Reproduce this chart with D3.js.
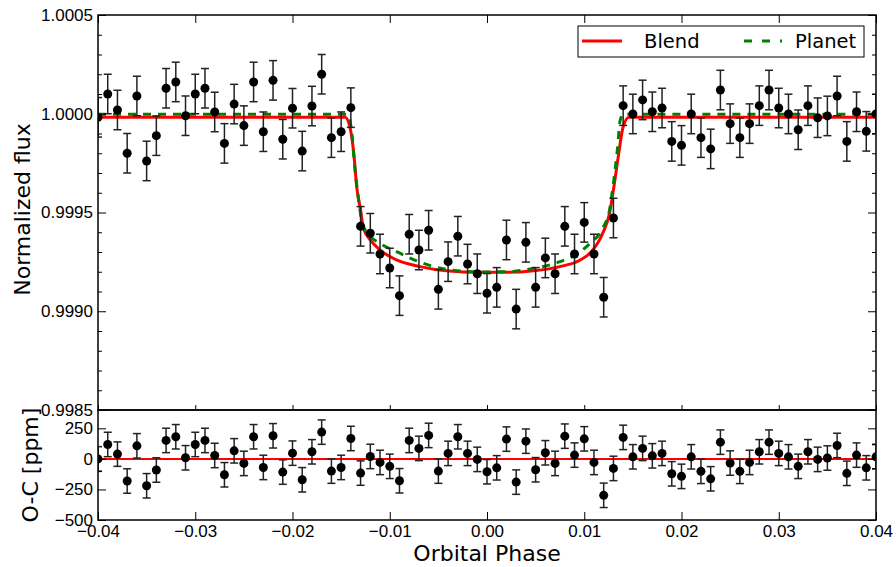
<!DOCTYPE html>
<html>
<head>
<meta charset="utf-8">
<script src="https://cdn.jsdelivr.net/npm/d3@7"></script>
<style>
  body { margin: 0; background: #fff; }
  svg { font-family: "DejaVu Sans", sans-serif; }
</style>
</head>
<body>
<div id="chart"></div>
<script>
// orbital phase of each observation
const phase = [-0.040,-0.039,-0.038,-0.037,-0.036,-0.035,-0.034,-0.033,-0.032,-0.031,
  -0.030,-0.029,-0.028,-0.027,-0.026,-0.025,-0.024,-0.023,-0.022,-0.021,
  -0.020,-0.019,-0.018,-0.017,-0.016,-0.015,-0.014,-0.013,-0.012,-0.011,
  -0.010,-0.009,-0.008,-0.007,-0.006,-0.005,-0.004,-0.003,-0.002,-0.001,
  0.000,0.001,0.002,0.003,0.004,0.005,0.006,0.007,0.008,0.009,
  0.010,0.011,0.012,0.013,0.014,0.015,0.016,0.017,0.018,0.019,
  0.020,0.021,0.022,0.023,0.024,0.025,0.026,0.027,0.028,0.029,
  0.030,0.031,0.032,0.033,0.034,0.035,0.036,0.037,0.038,0.039,0.040];

// normalized flux, one per phase
const flux = [0.999982,1.000100,1.000019,0.999800,1.000090,0.999761,0.999889,1.000129,1.000161,0.999990,
  1.000100,1.000129,1.000009,0.999850,1.000049,0.999940,1.000161,0.999909,1.000169,0.999871,
  1.000028,0.999811,1.000039,1.000200,0.999879,0.999909,1.000031,0.999430,0.999395,0.999290,
  0.999219,0.999079,0.999390,0.999310,0.999410,0.999111,0.999251,0.999380,0.999239,0.999190,
  0.999091,0.999121,0.999361,0.999011,0.999349,0.999121,0.999270,0.999190,0.999430,0.999290,
  0.999450,0.999290,0.999071,0.999472,1.000041,0.999999,1.000070,1.000010,1.000029,0.999860,
  0.999840,0.999999,0.999879,0.999822,1.000120,0.999950,0.999879,0.999950,1.000041,1.000120,
  1.000029,0.999999,0.999919,1.000041,0.999980,0.999989,1.000090,0.999860,1.000010,0.999911,0.999999];
const fluxErr = 0.0001;

// O-C residuals in ppm
const resid = [0,118,39,-181,107,-220,-91,151,181,9,
  118,151,28,-130,66,-37,181,-70,189,-108,
  47,-171,58,219,-100,-70,167,-116,20,-29,
  -61,-179,151,86,192,-100,45,181,45,-4,
  -105,-73,162,-190,145,-89,50,-37,186,31,
  164,-29,-298,-78,176,17,86,25,45,-122,
  -143,17,-102,-163,137,-34,-102,-29,58,137,
  45,17,-61,58,-4,7,110,-118,31,-73,17];
const residErr = 100;

// blend model curve
const blendPhase = [-0.040,-0.0146,-0.0141,-0.0137,-0.0134,-0.0130,-0.0127,-0.0120,-0.0110,-0.0093,
  -0.0069,-0.0042,-0.0007,0.0020,0.0048,0.0075,0.0095,0.0107,0.0119,0.0126,
  0.0130,0.0135,0.0140,0.0146,0.040];
const blendFlux = [0.999982,0.999982,0.999934,0.999800,0.999631,0.999513,0.999420,0.999361,0.999310,0.999260,
  0.999226,0.999205,0.999197,0.999197,0.999205,0.999226,0.999257,0.999300,0.999395,0.999496,
  0.999614,0.999783,0.999934,0.999982,0.999982];

// planet model curve
const planetPhase = [-0.040,-0.0148,-0.0143,-0.0139,-0.0136,-0.0132,-0.0129,-0.0124,-0.0110,-0.0093,
  -0.0069,-0.0042,-0.0007,0.0020,0.0048,0.0075,0.0092,0.0106,0.0119,0.0126,
  0.0130,0.0134,0.0137,0.0140,0.040];
const planetFlux = [0.999997,0.999997,0.999994,0.999901,0.999732,0.999563,0.999462,0.999403,0.999344,0.999302,
  0.999249,0.999212,0.999199,0.999200,0.999217,0.999251,0.999289,0.999344,0.999420,0.999513,
  0.999648,0.999816,0.999968,0.999997,0.999997];

// ticks
const xTicks = [-0.04,-0.03,-0.02,-0.01,0.00,0.01,0.02,0.03,0.04];
const fluxTicks = [0.9985,0.9990,0.9995,1.0000,1.0005];
const fluxMinor = [0.9986,0.9987,0.9988,0.9989,0.9991,0.9992,0.9993,0.9994,0.9996,0.9997,
  0.9998,0.9999,1.0001,1.0002,1.0003,1.0004];
const residTicks = [-500,-250,0,250];
const residMinorLeft = [-100];
const residMinorRight = [125,-75];

var width = 896, height = 567;
var left = 98, right = 876, top1 = 15, bot1 = 410, bot2 = 520;

var svg = d3.select("#chart").append("svg")
  .attr("width", width)
  .attr("height", height);

var x = d3.scaleLinear().domain([-0.04, 0.04]).range([left, right]);
var yF = d3.scaleLinear().domain([0.9985, 1.0005]).range([bot1, top1]);
var yR = d3.scaleLinear().domain([-500, 400]).range([bot2, bot1]);

var defs = svg.append("defs");
defs.append("clipPath").attr("id", "clipTop")
  .append("rect").attr("x", left).attr("y", top1).attr("width", right-left).attr("height", bot1-top1);
defs.append("clipPath").attr("id", "clipBot")
  .append("rect").attr("x", left).attr("y", bot1).attr("width", right-left).attr("height", bot2-bot1);

var pts = phase.map((p, i) => ({p: p, f: flux[i], r: resid[i]}));

// ---- top panel ----
var gTop = svg.append("g").attr("clip-path", "url(#clipTop)");

var line = d3.line().curve(d3.curveMonotoneX);

gTop.append("path")
  .attr("d", line(blendPhase.map((p, i) => [x(p), yF(blendFlux[i])])))
  .attr("fill", "none")
  .attr("stroke", "#ff0000")
  .attr("stroke-width", 3);

gTop.append("path")
  .attr("d", line(planetPhase.map((p, i) => [x(p), yF(planetFlux[i])])))
  .attr("fill", "none")
  .attr("stroke", "#008000")
  .attr("stroke-width", 3)
  .attr("stroke-dasharray", "8,7");

function errorBars(g, yScale, key, err) {
  var eb = g.selectAll(null).data(pts).enter().append("g")
    .attr("stroke", "#222")
    .attr("stroke-width", 1.5);
  eb.append("line")
    .attr("x1", d => x(d.p)).attr("x2", d => x(d.p))
    .attr("y1", d => yScale(d[key] - err)).attr("y2", d => yScale(d[key] + err));
  eb.append("line")
    .attr("x1", d => x(d.p) - 4).attr("x2", d => x(d.p) + 4)
    .attr("y1", d => yScale(d[key] - err)).attr("y2", d => yScale(d[key] - err));
  eb.append("line")
    .attr("x1", d => x(d.p) - 4).attr("x2", d => x(d.p) + 4)
    .attr("y1", d => yScale(d[key] + err)).attr("y2", d => yScale(d[key] + err));
  g.selectAll(null).data(pts).enter().append("circle")
    .attr("cx", d => x(d.p))
    .attr("cy", d => yScale(d[key]))
    .attr("r", 4.5)
    .attr("fill", "#000");
}
errorBars(gTop, yF, "f", fluxErr);

// ---- bottom panel ----
var gBot = svg.append("g").attr("clip-path", "url(#clipBot)");
gBot.append("line")
  .attr("x1", x(-0.04)).attr("x2", x(0.04))
  .attr("y1", yR(0)).attr("y2", yR(0))
  .attr("stroke", "#ff0000")
  .attr("stroke-width", 2);
errorBars(gBot, yR, "r", residErr);

// ---- axes ----
function styleAxis(g) {
  g.select(".domain").remove();
  g.selectAll(".tick line").attr("stroke", "#000").attr("stroke-width", 1);
  g.selectAll(".tick text").attr("font-size", 17).attr("fill", "#000");
}

// top panel ticks
svg.append("g").attr("transform", `translate(${left},0)`)
  .call(d3.axisLeft(yF).tickValues(fluxTicks).tickFormat(d3.format(".4f")).tickSize(-8).tickPadding(5))
  .call(styleAxis);
svg.append("g").attr("transform", `translate(${left},0)`)
  .call(d3.axisLeft(yF).tickValues(fluxMinor).tickFormat("").tickSize(-4))
  .call(styleAxis);
svg.append("g").attr("transform", `translate(${right},0)`)
  .call(d3.axisRight(yF).tickValues(fluxTicks).tickFormat("").tickSize(-8))
  .call(styleAxis);
svg.append("g").attr("transform", `translate(${right},0)`)
  .call(d3.axisRight(yF).tickValues(fluxMinor).tickFormat("").tickSize(-4))
  .call(styleAxis);
svg.append("g").attr("transform", `translate(0,${top1})`)
  .call(d3.axisTop(x).tickValues(xTicks).tickFormat("").tickSize(-8))
  .call(styleAxis);
svg.append("g").attr("transform", `translate(0,${bot1})`)
  .call(d3.axisBottom(x).tickValues(xTicks).tickFormat("").tickSize(5))
  .call(g => g.selectAll(".tick line").attr("y2", -5))
  .call(styleAxis);

// bottom panel ticks
svg.append("g").attr("transform", `translate(${left},0)`)
  .call(d3.axisLeft(yR).tickValues(residTicks).tickFormat(d3.format("d")).tickSize(-8).tickPadding(5))
  .call(styleAxis);
svg.append("g").attr("transform", `translate(${left},0)`)
  .call(d3.axisLeft(yR).tickValues(residMinorLeft).tickFormat("").tickSize(-4))
  .call(styleAxis);
svg.append("g").attr("transform", `translate(${right},0)`)
  .call(d3.axisRight(yR).tickValues(residTicks).tickFormat("").tickSize(-8))
  .call(styleAxis);
svg.append("g").attr("transform", `translate(${right},0)`)
  .call(d3.axisRight(yR).tickValues(residMinorRight).tickFormat("").tickSize(-4))
  .call(styleAxis);
svg.append("g").attr("transform", `translate(0,${bot2})`)
  .call(d3.axisBottom(x).tickValues(xTicks).tickFormat(d3.format(".2f")).tickSize(-8).tickPadding(5))
  .call(styleAxis);

// frames
svg.append("rect").attr("x", left).attr("y", top1).attr("width", right-left).attr("height", bot1-top1)
  .attr("fill", "none").attr("stroke", "#000").attr("stroke-width", 1.5);
svg.append("rect").attr("x", left).attr("y", bot1).attr("width", right-left).attr("height", bot2-bot1)
  .attr("fill", "none").attr("stroke", "#000").attr("stroke-width", 1.5);

// axis labels
svg.append("text")
  .attr("transform", `translate(30,${(top1+bot1)/2 - 3}) rotate(-90)`)
  .attr("text-anchor", "middle")
  .attr("font-size", 22)
  .text("Normalized flux");
svg.append("text")
  .attr("transform", `translate(38,${(bot1+bot2)/2}) rotate(-90)`)
  .attr("text-anchor", "middle")
  .attr("font-size", 22)
  .text("O-C [ppm]");
svg.append("text")
  .attr("x", (left+right)/2)
  .attr("y", 561)
  .attr("text-anchor", "middle")
  .attr("font-size", 22)
  .text("Orbital Phase");

// legend
var lg = svg.append("g");
lg.append("rect").attr("x", 578).attr("y", 26).attr("width", 286).attr("height", 31)
  .attr("fill", "#fff").attr("stroke", "#000").attr("stroke-width", 1);
lg.append("line").attr("x1", 582).attr("x2", 622).attr("y1", 41).attr("y2", 41)
  .attr("stroke", "#ff0000").attr("stroke-width", 3);
lg.append("text").attr("x", 644).attr("y", 48).attr("font-size", 19.5).text("Blend");
lg.append("line").attr("x1", 744).attr("x2", 782).attr("y1", 41).attr("y2", 41)
  .attr("stroke", "#008000").attr("stroke-width", 3).attr("stroke-dasharray", "8,10");
lg.append("text").attr("x", 795).attr("y", 48).attr("font-size", 19.5).text("Planet");
</script>
</body>
</html>
